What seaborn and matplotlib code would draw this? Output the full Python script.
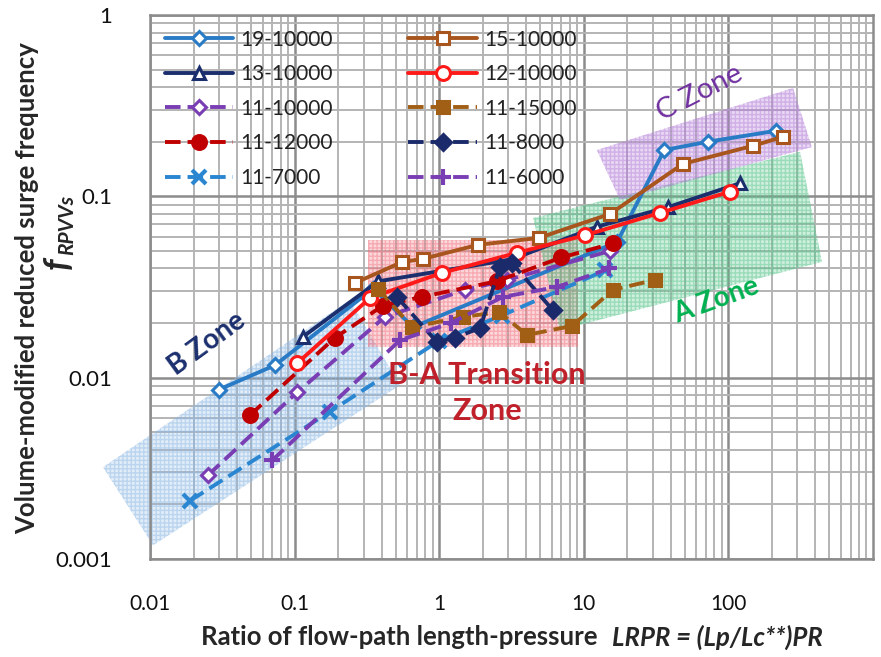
import numpy as np
import pandas as pd
import matplotlib
matplotlib.use("Agg")
import matplotlib.pyplot as plt
import seaborn as sns
from matplotlib.patches import Polygon
from matplotlib.ticker import LogLocator, FixedLocator, FixedFormatter, NullFormatter

# ---------------- data ----------------
x_19_10000 = [0.030, 0.073, 0.35, 0.66, 17.0, 36.0, 72.0, 215.0]
y_19_10000 = [0.0086, 0.0117, 0.031, 0.019, 0.056, 0.18, 0.20, 0.23]

x_13_10000 = [0.114, 0.38, 3.2, 12.3, 38.0, 120.0]
y_13_10000 = [0.0168, 0.034, 0.045, 0.068, 0.087, 0.118]

x_11_10000 = [0.0252, 0.104, 0.42, 1.51, 2.95, 15.2]
y_11_10000 = [0.0029, 0.0083, 0.0216, 0.0305, 0.0346, 0.050]

x_11_12000 = [0.049, 0.19, 0.41, 0.76, 2.5, 7.0, 15.9]
y_11_12000 = [0.0062, 0.0166, 0.025, 0.0279, 0.034, 0.046, 0.055]

x_11_7000 = [0.019, 0.176, 1.0, 2.7, 14.0]
y_11_7000 = [0.0021, 0.0065, 0.016, 0.022, 0.039]

x_15_10000 = [0.262, 0.553, 0.773, 1.85, 4.9, 15.2, 48.5, 148.0, 239.0]
y_15_10000 = [0.0333, 0.0434, 0.0452, 0.054, 0.059, 0.080, 0.151, 0.19, 0.213]

x_12_10000 = [0.104, 0.332, 1.04, 3.45, 10.2, 33.6, 102.0]
y_12_10000 = [0.012, 0.0275, 0.0378, 0.0488, 0.061, 0.081, 0.106]

x_11_15000 = [0.377, 0.65, 1.45, 2.6, 4.04, 8.3, 15.9, 31.0]
y_11_15000 = [0.031, 0.019, 0.0216, 0.023, 0.0172, 0.0193, 0.0305, 0.0346]

x_11_8000 = [0.51, 0.966, 1.28, 1.92, 2.63, 3.17, 6.1]
y_11_8000 = [0.0279, 0.0157, 0.0166, 0.0188, 0.0407, 0.043, 0.0236]

x_11_6000 = [0.07, 0.536, 1.2, 2.76, 6.5, 15.0]
y_11_6000 = [0.0035, 0.0161, 0.020, 0.0279, 0.0316, 0.040]

series_labels = ["19-10000", "13-10000", "11-10000", "11-12000", "11-7000",
                 "15-10000", "12-10000", "11-15000", "11-8000", "11-6000"]
series_x = [x_19_10000, x_13_10000, x_11_10000, x_11_12000, x_11_7000,
            x_15_10000, x_12_10000, x_11_15000, x_11_8000, x_11_6000]
series_y = [y_19_10000, y_13_10000, y_11_10000, y_11_12000, y_11_7000,
            y_15_10000, y_12_10000, y_11_15000, y_11_8000, y_11_6000]

x_tick_values = [0.01, 0.1, 1, 10, 100]
x_tick_labels = ["0.01", "0.1", "1", "10", "100"]
y_tick_values = [0.001, 0.01, 0.1, 1]
y_tick_labels = ["0.001", "0.01", "0.1", "1"]

# zone polygons (data coords)
zone_B = [(0.00473, 0.00321), (0.241, 0.0268), (0.536, 0.0091), (0.0105, 0.00119)]
zone_BA = [(0.322, 0.0575), (9.12, 0.0575), (9.12, 0.0148), (0.322, 0.0148)]
zone_A = [(4.46, 0.076), (313, 0.176), (444, 0.0435), (6.84, 0.0183)]
zone_C = [(12.3, 0.18), (280, 0.396), (378, 0.187), (17.8, 0.0955)]

# ---------------- styles ----------------
styles = {
    "19-10000": dict(color="#2a7bc6", ls="-", marker="D", mfc="white", ms=7.5),
    "13-10000": dict(color="#1b2f6e", ls="-", marker="^", mfc="white", ms=9),
    "11-10000": dict(color="#7a3eb4", ls="dash", marker="D", mfc="white", ms=7.5),
    "11-12000": dict(color="#c00000", ls="dash", marker="o", mfc=None, ms=10),
    "11-7000": dict(color="#2a86d0", ls="dash", marker="x", mfc=None, ms=10),
    "15-10000": dict(color="#a8551e", ls="-", marker="s", mfc="white", ms=8.5),
    "12-10000": dict(color="#ff1a1a", ls="-", marker="o", mfc="white", ms=10),
    "11-15000": dict(color="#a05f14", ls="dash", marker="s", mfc=None, ms=9),
    "11-8000": dict(color="#1b2a6a", ls="dash", marker="D", mfc=None, ms=8),
    "11-6000": dict(color="#7a3eb4", ls="dash", marker="+", mfc=None, ms=11),
}

sns.set_style("white")
plt.rcParams["font.family"] = ["Lato", "DejaVu Sans"]

fig = plt.figure(figsize=(8.81, 6.57), dpi=100)
ax = fig.add_axes([150 / 881, 1 - 559 / 657, (873 - 150) / 881, (559 - 15) / 657])
ax.set_xscale("log")
ax.set_yscale("log")

# zones
def add_zone(pts, rgb, fa, ea, clip=True):
    poly = Polygon(pts, closed=True, transform=ax.transData,
                   facecolor=(*rgb, fa), edgecolor=(*rgb, ea), linewidth=0,
                   hatch="++++", zorder=1.5, clip_on=clip)
    ax.add_patch(poly)

add_zone(zone_B, (0.55, 0.72, 0.90), 0.25, 0.45, clip=False)
add_zone(zone_BA, (0.95, 0.45, 0.50), 0.28, 0.45)
add_zone(zone_A, (0.35, 0.78, 0.55), 0.28, 0.45)
add_zone(zone_C, (0.70, 0.50, 0.85), 0.30, 0.45)

handles = {}
for lab, xs, ys in zip(series_labels, series_x, series_y):
    st = styles[lab]
    df = pd.DataFrame({"x": xs, "y": ys})
    ls = (0, (4.0, 1.8)) if st["ls"] == "dash" else "-"
    mfc = st["mfc"] if st["mfc"] is not None else st["color"]
    mew = 3.0 if st["marker"] in ("x", "+") else 2.2
    sns.lineplot(data=df, x="x", y="y", ax=ax, sort=False, estimator=None,
                 color=st["color"], linestyle=ls, linewidth=2.8,
                 marker=st["marker"], markersize=st["ms"],
                 markerfacecolor=mfc, markeredgecolor=st["color"],
                 markeredgewidth=mew, label=lab, zorder=3, legend=False)
    handles[lab] = ax.lines[-1]

ax.set_xlim(0.01, 1000)
ax.set_ylim(0.001, 1)
ax.set_xlabel("")
ax.set_ylabel("")

ax.xaxis.set_major_locator(FixedLocator(x_tick_values))
ax.xaxis.set_major_formatter(FixedFormatter(x_tick_labels))
ax.yaxis.set_major_locator(FixedLocator(y_tick_values))
ax.yaxis.set_major_formatter(FixedFormatter(y_tick_labels))
ax.xaxis.set_minor_locator(LogLocator(base=10, subs=np.arange(2, 10), numticks=20))
ax.yaxis.set_minor_locator(LogLocator(base=10, subs=np.arange(2, 10), numticks=20))
ax.xaxis.set_minor_formatter(NullFormatter())
ax.yaxis.set_minor_formatter(NullFormatter())

ax.set_axisbelow(True)
ax.grid(True, which="major", color="#8c8c8c", linewidth=1.8, zorder=0.5)
ax.grid(True, which="minor", color="#b4b4b4", linewidth=1.4, zorder=0.5)
for sp in ax.spines.values():
    sp.set_color("#8c8c8c")
    sp.set_linewidth(1.8)

ax.tick_params(axis="both", which="major", direction="out", length=7, width=1.6,
               color="#8c8c8c", labelcolor="#111111")
ax.tick_params(axis="x", which="major", pad=18, labelsize=15)
ax.tick_params(axis="y", which="major", pad=20, labelsize=16)
ax.tick_params(axis="both", which="minor", length=0)

leg = ax.legend([handles[l] for l in series_labels], series_labels, ncol=2,
                loc="upper left", bbox_to_anchor=(0.0, 1.0), frameon=False,
                fontsize=15, handlelength=3.3, handletextpad=0.35,
                columnspacing=3.6, labelspacing=0.7, borderaxespad=0.4,
                borderpad=0.3)
for t in leg.get_texts():
    t.set_color("#222222")

# zone labels
ax.text(0.0248, 0.0155, "B Zone", color="#1b2f6e", fontsize=20, fontweight="bold",
        rotation=36, ha="center", va="center", zorder=4)
ax.text(2.14, 0.0082, "B-A Transition\nZone", color="#c0202a", fontsize=22,
        fontweight="bold", ha="center", va="center", linespacing=1.35, zorder=4)
ax.text(83, 0.0268, "A Zone", color="#00b050", fontsize=20, fontweight="bold",
        rotation=20, ha="center", va="center", zorder=4)
ax.text(63.7, 0.371, "C Zone", color="#7030a0", fontsize=21,
        rotation=27, ha="center", va="center", zorder=4)

# axis labels
fig.text(27 / 881, 1 - 288 / 657, "Volume-modified reduced surge frequency",
         rotation=90, ha="center", va="center", fontsize=18.5, fontweight="bold")
fig.text(58 / 881, 1 - 263 / 657, "f", rotation=90, ha="center", va="center",
         fontsize=25, fontweight="bold", fontstyle="italic")
fig.text(67 / 881, 1 - 225 / 657, "RPVVs", rotation=90, ha="center", va="center",
         fontsize=15, fontweight="bold", fontstyle="italic")

fig.canvas.draw()
renderer = fig.canvas.get_renderer()
t1 = fig.text(0, 1 - 637 / 657, "Ratio of flow-path length-pressure", ha="left",
              va="center", fontsize=18.5, fontweight="bold")
t2 = fig.text(0, 1 - 637 / 657, "LRPR = (Lp/Lc**)PR", ha="left", va="center",
              fontsize=18.5, fontweight="bold", fontstyle="italic")
w1 = t1.get_window_extent(renderer).width
w2 = t2.get_window_extent(renderer).width
gap = 14
total = w1 + gap + w2
start = 512 - total / 2
t1.set_x(start / 881)
t2.set_x((start + w1 + gap) / 881)

fig.savefig("out.png", dpi=100)
